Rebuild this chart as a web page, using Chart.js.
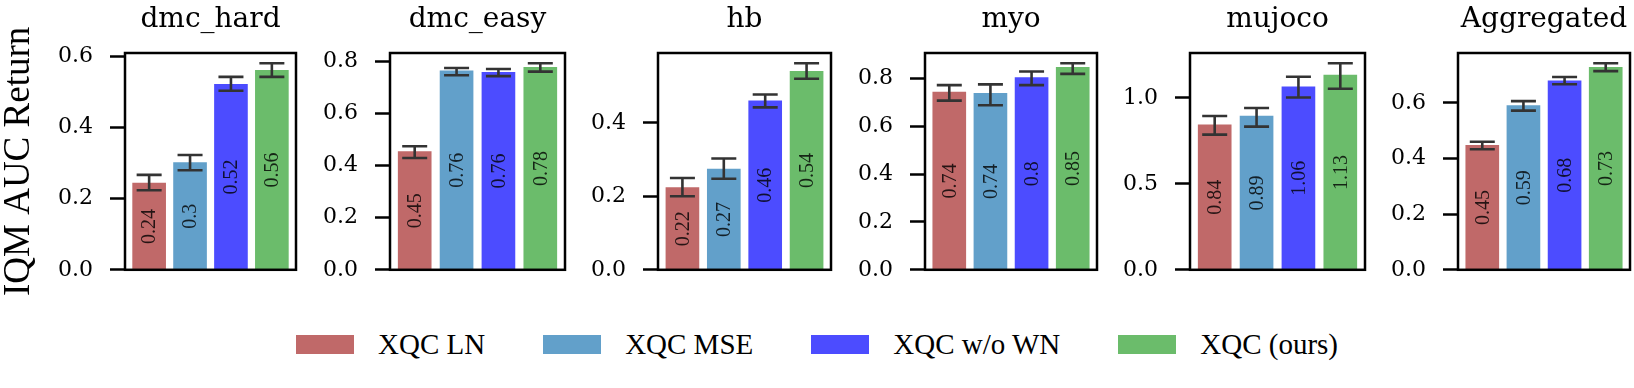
<!DOCTYPE html>
<html><head><meta charset="utf-8">
<script src="https://cdn.jsdelivr.net/npm/chart.js@4.4.1/dist/chart.umd.min.js"></script>
<style>
html,body{margin:0;padding:0;background:#fff;width:1634px;height:388px;overflow:hidden;}
#wrap{position:relative;width:1634px;height:388px;}
#wrap canvas{position:absolute;top:0;}
#legend{position:absolute;left:296px;top:335px;height:19px;display:flex;align-items:center;font-family:"Liberation Serif";font-size:29px;line-height:29px;color:#000;white-space:nowrap;}
.item{display:flex;align-items:center;margin-right:58px;}
.item:last-child{margin-right:0;}
.sw{width:58px;height:19px;margin-right:24px;}
</style></head>
<body><div id="wrap"><div id="legend"></div></div>
<script>
// ---- data ----
const panelTitles = ['dmc_hard', 'dmc_easy', 'hb', 'myo', 'mujoco', 'Aggregated'];
const methods = ['XQC LN', 'XQC MSE', 'XQC w/o WN', 'XQC (ours)'];
const methodColors = ['rgba(165,42,42,0.7)', 'rgba(31,119,180,0.7)', 'rgba(0,0,255,0.7)', 'rgba(44,160,44,0.7)'];

const dmcHardMean = [0.244, 0.302, 0.522, 0.561];
const dmcHardLo   = [0.224, 0.280, 0.504, 0.543];
const dmcHardHi   = [0.267, 0.323, 0.543, 0.581];

const dmcEasyMean = [0.453, 0.763, 0.757, 0.777];
const dmcEasyLo   = [0.429, 0.746, 0.743, 0.760];
const dmcEasyHi   = [0.474, 0.774, 0.770, 0.792];

const hbMean = [0.224, 0.274, 0.460, 0.540];
const hbLo   = [0.200, 0.248, 0.442, 0.520];
const hbHi   = [0.250, 0.303, 0.477, 0.562];

const myoMean = [0.743, 0.738, 0.803, 0.846];
const myoLo   = [0.707, 0.688, 0.772, 0.819];
const myoHi   = [0.772, 0.775, 0.829, 0.863];

const mujocoMean = [0.843, 0.894, 1.064, 1.133];
const mujocoLo   = [0.786, 0.833, 1.002, 1.053];
const mujocoHi   = [0.895, 0.941, 1.123, 1.201];

const aggMean = [0.447, 0.590, 0.679, 0.728];
const aggLo   = [0.433, 0.572, 0.667, 0.714];
const aggHi   = [0.460, 0.606, 0.693, 0.742];

const tickSteps = [0.2, 0.2, 0.2, 0.2, 0.5, 0.2];
const yAxisTitle = 'IQM AUC Return';

const means = [dmcHardMean, dmcEasyMean, hbMean, myoMean, mujocoMean, aggMean];
const lows  = [dmcHardLo, dmcEasyLo, hbLo, myoLo, mujocoLo, aggLo];
const highs = [dmcHardHi, dmcEasyHi, hbHi, myoHi, mujocoHi, aggHi];

// ---- layout (pixels) ----
const boxLeft  = [125, 390, 658, 925, 1190, 1458];
const boxRight = [296, 565, 831, 1097, 1365, 1630];

const wrap = document.getElementById('wrap');

function decor(i) {
  return {
    id: 'decor' + i,
    afterDatasetsDraw(chart) {
      const ctx = chart.ctx, ca = chart.chartArea, ys = chart.scales.y;
      const meta = chart.getDatasetMeta(0);
      const mean = means[i], lo = lows[i], hi = highs[i];
      ctx.save();
      // value labels
      ctx.font = '20px "Liberation Serif"';
      ctx.fillStyle = 'rgba(0,0,0,0.8)';
      ctx.textAlign = 'center';
      ctx.textBaseline = 'middle';
      meta.data.forEach((bar, k) => {
        const yMid = (ys.getPixelForValue(mean[k]) + ys.getPixelForValue(0)) / 2;
        ctx.save();
        ctx.translate(bar.x, yMid);
        ctx.rotate(-Math.PI / 2);
        ctx.fillText(String(Math.round(mean[k] * 100) / 100), 0, 1);
        ctx.restore();
      });
      // error bars
      ctx.strokeStyle = '#333';
      ctx.lineWidth = 2.6;
      meta.data.forEach((bar, k) => {
        const y1 = ys.getPixelForValue(lo[k]), y2 = ys.getPixelForValue(hi[k]);
        ctx.beginPath();
        ctx.moveTo(bar.x, y1); ctx.lineTo(bar.x, y2);
        ctx.moveTo(bar.x - 12.5, y1); ctx.lineTo(bar.x + 12.5, y1);
        ctx.moveTo(bar.x - 12.5, y2); ctx.lineTo(bar.x + 12.5, y2);
        ctx.stroke();
      });
      // frame
      ctx.strokeStyle = '#000';
      ctx.lineWidth = 2.5;
      ctx.strokeRect(ca.left, ca.top, ca.right - ca.left, ca.bottom - ca.top);
      // panel title
      ctx.font = '28px "DejaVu Serif"';
      ctx.fillStyle = '#000';
      ctx.textAlign = 'center';
      ctx.textBaseline = 'alphabetic';
      ctx.fillText(panelTitles[i], (ca.left + ca.right) / 2, 27);
      ctx.restore();
    }
  };
}

function makeChart(i) {
  const L = i === 0 ? 0 : boxLeft[i] - 95;
  const W = boxRight[i] + 4 - L;
  const c = document.createElement('canvas');
  c.width = W; c.height = 300;
  c.style.left = L + 'px'; c.style.width = W + 'px'; c.style.height = '300px';
  wrap.appendChild(c);
  const mean = means[i];
  const yMax = 1.05 * Math.max(...highs[i]);
  new Chart(c, {
    type: 'bar',
    data: {
      datasets: [{
        label: panelTitles[i],
        data: mean.map((v, k) => ({ x: k, y: v })),
        backgroundColor: methodColors,
        borderWidth: 0,
        barThickness: 33
      }]
    },
    options: {
      responsive: false,
      animation: false,
      devicePixelRatio: 1,
      layout: { autoPadding: false, padding: { left: 0, right: 4, top: 53, bottom: 3 } },
      plugins: { legend: { display: false }, tooltip: { enabled: false }, title: { display: false } },
      scales: {
        x: { type: 'linear', display: false, offset: false, min: -0.59, max: 3.59, grace: 0 },
        y: {
          min: 0, max: yMax, position: 'left',
          afterFit(s) { s.width = boxLeft[i] - L; },
          border: { display: false },
          grid: { drawOnChartArea: false, drawTicks: true, tickLength: 15, tickWidth: 2.5, tickColor: '#000' },
          ticks: {
            stepSize: tickSteps[i], includeBounds: false, padding: 17, color: '#000',
            font: { family: 'DejaVu Serif', size: 22 },
            callback: v => Number(v).toFixed(1)
          },
          title: i === 0 ? {
            display: true, text: yAxisTitle, color: '#000',
            font: { family: 'Liberation Serif', size: 37, lineHeight: 1 },
            padding: { top: 1, bottom: 0 }
          } : { display: false }
        }
      }
    },
    plugins: [decor(i)]
  });
}

for (let i = 0; i < panelTitles.length; i++) makeChart(i);

// legend
const lg = document.getElementById('legend');
methods.forEach((m, k) => {
  const it = document.createElement('div'); it.className = 'item';
  const sw = document.createElement('div'); sw.className = 'sw'; sw.style.background = methodColors[k];
  const tx = document.createElement('span'); tx.textContent = m;
  it.appendChild(sw); it.appendChild(tx); lg.appendChild(it);
});
</script>
</body></html>
